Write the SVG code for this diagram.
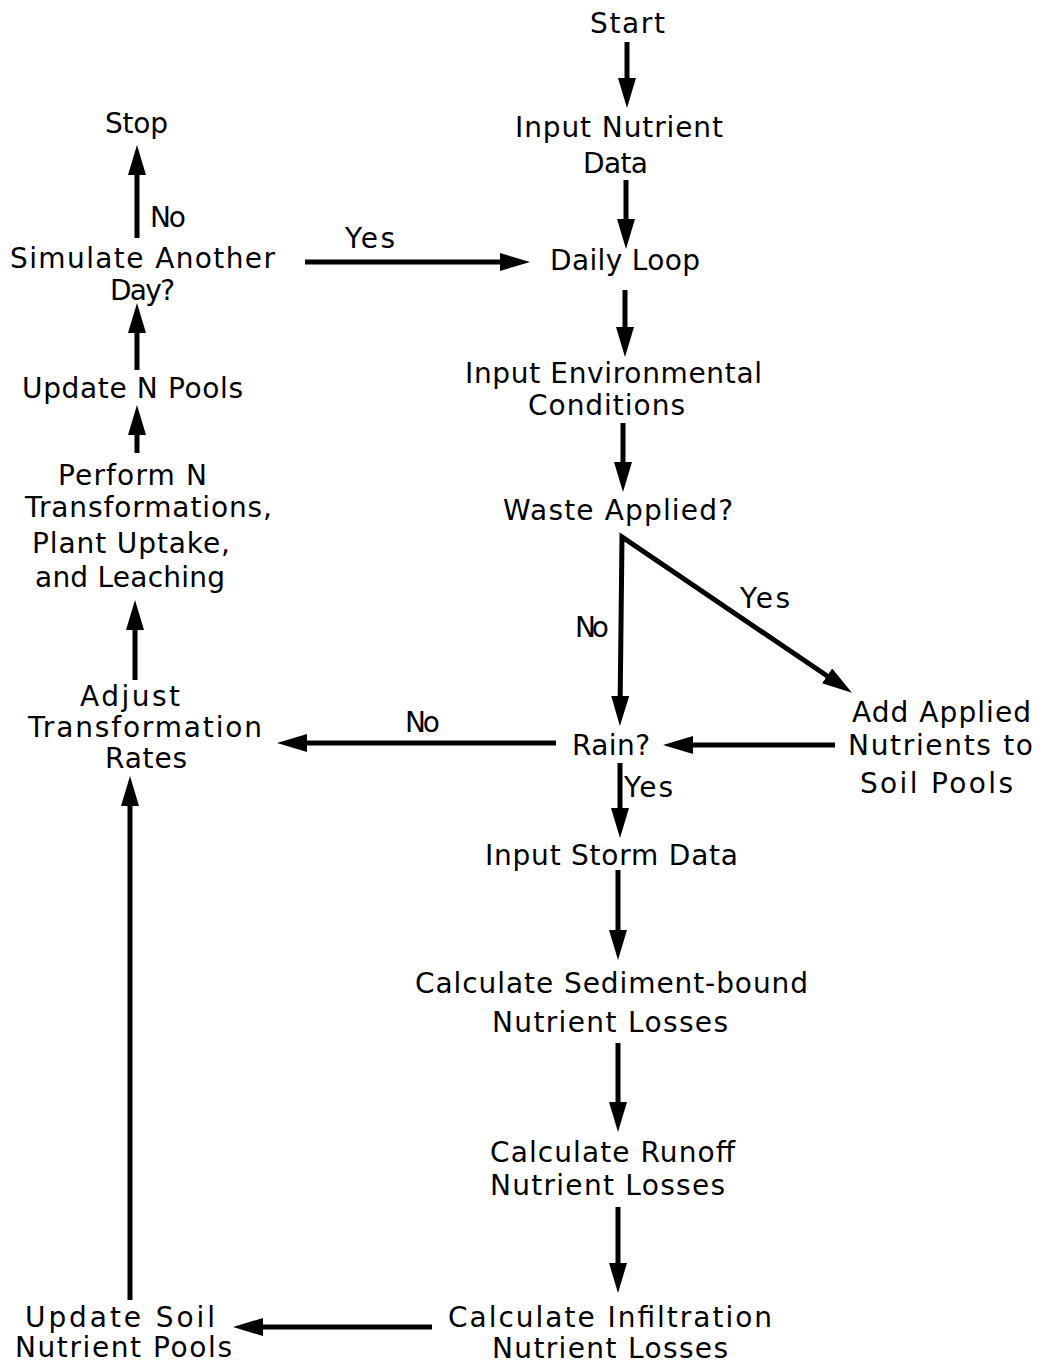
<svg xmlns="http://www.w3.org/2000/svg" width="1040" height="1364" viewBox="0 0 1040 1364">
<style>
  text { font-family: "DejaVu Sans", "Liberation Sans", sans-serif; font-size: 28px; fill: #000; }
  .c { fill: none; stroke: #000; stroke-width: 5; stroke-linejoin: miter; }
</style>
<defs>
  <marker id="ah" viewBox="0 0 30 18" refX="18" refY="9" markerWidth="30" markerHeight="18" markerUnits="userSpaceOnUse" orient="auto-start-reverse">
    <path d="M0,0 L30,9 L0,18 Z" fill="#000"/>
  </marker>
</defs>
<rect x="0" y="0" width="1040" height="1364" fill="#fff"/>

<g id="connectors">
  <path class="c" d="M627,42 V96" marker-end="url(#ah)"/>
  <path class="c" d="M626,180 V237" marker-end="url(#ah)"/>
  <path class="c" d="M625,290 V345" marker-end="url(#ah)"/>
  <path class="c" d="M623,423 V480" marker-end="url(#ah)"/>
  <path class="c" d="M620,714 L622,537 L842,686" marker-start="url(#ah)" marker-end="url(#ah)"/>
  <path class="c" d="M835,745 H675" marker-end="url(#ah)"/>
  <path class="c" d="M556,743 H289" marker-end="url(#ah)"/>
  <path class="c" d="M620,763 V826" marker-end="url(#ah)"/>
  <path class="c" d="M618,870 V948" marker-end="url(#ah)"/>
  <path class="c" d="M618,1043 V1120" marker-end="url(#ah)"/>
  <path class="c" d="M618,1207 V1281" marker-end="url(#ah)"/>
  <path class="c" d="M432,1327 H245" marker-end="url(#ah)"/>
  <path class="c" d="M130,1300 V788" marker-end="url(#ah)"/>
  <path class="c" d="M135,680 V612" marker-end="url(#ah)"/>
  <path class="c" d="M137,453 V417" marker-end="url(#ah)"/>
  <path class="c" d="M137,370 V315" marker-end="url(#ah)"/>
  <path class="c" d="M137,238 V157" marker-end="url(#ah)"/>
  <path class="c" d="M305,262 H518" marker-end="url(#ah)"/>
  <g id="edge-labels">
    <text x="575" y="637" textLength="34" lengthAdjust="spacing">No</text>
    <text x="740" y="608" textLength="50" lengthAdjust="spacing">Yes</text>
    <text x="405" y="732" textLength="35" lengthAdjust="spacing">No</text>
    <text x="624" y="797" textLength="49" lengthAdjust="spacing">Yes</text>
    <text x="150" y="227" textLength="36" lengthAdjust="spacing">No</text>
    <text x="345" y="248" textLength="50" lengthAdjust="spacing">Yes</text>
  </g>
</g>

<g id="start"><text x="590" y="33" textLength="75" lengthAdjust="spacing">Start</text></g>
<g id="input-nutrient">
  <text x="515" y="137" textLength="208" lengthAdjust="spacing">Input Nutrient</text>
  <text x="583" y="173" textLength="65" lengthAdjust="spacing">Data</text>
</g>
<g id="daily-loop"><text x="550" y="270" textLength="150" lengthAdjust="spacing">Daily Loop</text></g>
<g id="input-env">
  <text x="465" y="383" textLength="297" lengthAdjust="spacing">Input Environmental</text>
  <text x="528" y="415" textLength="157" lengthAdjust="spacing">Conditions</text>
</g>
<g id="waste-applied"><text x="503" y="520" textLength="230" lengthAdjust="spacing">Waste Applied?</text></g>
<g id="add-applied">
  <text x="852" y="722" textLength="179" lengthAdjust="spacing">Add Applied</text>
  <text x="848" y="755" textLength="185" lengthAdjust="spacing">Nutrients to</text>
  <text x="860" y="793" textLength="153" lengthAdjust="spacing">Soil Pools</text>
</g>
<g id="rain"><text x="572" y="755" textLength="78" lengthAdjust="spacing">Rain?</text></g>
<g id="input-storm"><text x="485" y="865" textLength="253" lengthAdjust="spacing">Input Storm Data</text></g>
<g id="sediment">
  <text x="415" y="993" textLength="393" lengthAdjust="spacing">Calculate Sediment-bound</text>
  <text x="492" y="1032" textLength="236" lengthAdjust="spacing">Nutrient Losses</text>
</g>
<g id="runoff">
  <text x="490" y="1162" textLength="245" lengthAdjust="spacing">Calculate Runoff</text>
  <text x="490" y="1195" textLength="235" lengthAdjust="spacing">Nutrient Losses</text>
</g>
<g id="infiltration">
  <text x="448" y="1327" textLength="324" lengthAdjust="spacing">Calculate Infiltration</text>
  <text x="492" y="1358" textLength="236" lengthAdjust="spacing">Nutrient Losses</text>
</g>
<g id="update-soil">
  <text x="25" y="1327" textLength="190" lengthAdjust="spacing">Update Soil</text>
  <text x="15" y="1357" textLength="217" lengthAdjust="spacing">Nutrient Pools</text>
</g>
<g id="adjust">
  <text x="80" y="706" textLength="100" lengthAdjust="spacing">Adjust</text>
  <text x="28" y="737" textLength="234" lengthAdjust="spacing">Transformation</text>
  <text x="105" y="768" textLength="82" lengthAdjust="spacing">Rates</text>
</g>
<g id="perform">
  <text x="58" y="485" textLength="149" lengthAdjust="spacing">Perform N</text>
  <text x="25" y="517" textLength="247" lengthAdjust="spacing">Transformations,</text>
  <text x="32" y="553" textLength="198" lengthAdjust="spacing">Plant Uptake,</text>
  <text x="35" y="587" textLength="190" lengthAdjust="spacing">and Leaching</text>
</g>
<g id="update-n"><text x="22" y="398" textLength="221" lengthAdjust="spacing">Update N Pools</text></g>
<g id="simulate">
  <text x="10" y="268" textLength="265" lengthAdjust="spacing">Simulate Another</text>
  <text x="110" y="300" textLength="65" lengthAdjust="spacing">Day?</text>
</g>
<g id="stop"><text x="105" y="133" textLength="63" lengthAdjust="spacing">Stop</text></g>
</svg>
